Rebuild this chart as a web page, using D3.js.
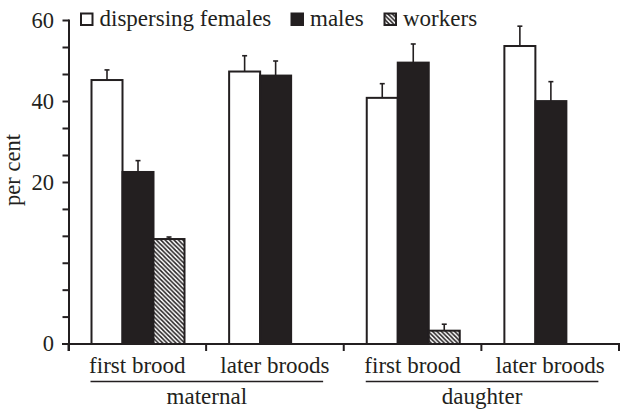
<!DOCTYPE html>
<html><head><meta charset="utf-8">
<script src="https://cdn.jsdelivr.net/npm/d3@7"></script>
<style>body{margin:0;background:#fff}svg{display:block}</style>
</head><body><svg id="c" width="621" height="412"></svg>
<script>
const categories = ["first brood","later broods","first brood","later broods"];
const groups = [{name:"maternal", from:0, to:1},{name:"daughter", from:2, to:3}];
const series = ["dispersing females","males","workers"];
const femalesVal = [45.3, 47.4, 40.9, 53.7];
const femalesErr = [2.5, 3.9, 3.5, 4.9];
const malesVal = [22.6, 46.4, 49.6, 40.1];
const malesErr = [2.8, 3.6, 4.6, 4.8];
const workersVal = [13.0, null, 1.65, null];
const workersErr = [0.25, null, 0.8, null];
const yTickLabels = [0, 20, 40, 60];

const ink = "#231f20";
const FONT = "'Liberation Serif'";
const svg = d3.select("#c");
const txt = (sel)=>sel.style("font-family",FONT).attr("fill",ink);
const defs = svg.append("defs");
const P = 4.4;
const pat = defs.append("pattern").attr("id","hatch").attr("patternUnits","userSpaceOnUse")
  .attr("width",P).attr("height",P);
pat.append("rect").attr("width",P).attr("height",P).attr("fill","#fff");
pat.append("path").attr("d",`M0,0L${P},${P}M-1,${P-1}L1,${P+1}M${P-1},-1L${P+1},1`).attr("stroke",ink).attr("stroke-width",1.5);

const y = d3.scaleLinear().domain([0,20,60]).range([344,182.5,20.5]);
const x0 = d3.scaleBand().domain(d3.range(categories.length)).range([68.5,619]);
const x1 = d3.scaleBand().domain(series).range([23,116]);

const vals = [femalesVal, malesVal, workersVal];
const errs = [femalesErr, malesErr, workersErr];
const fills = ["#fff", ink, "url(#hatch)"];

const data = [];
series.forEach((s,si)=>categories.forEach((c,ci)=>{
  if (vals[si][ci]!=null) data.push({s,si,ci,v:vals[si][ci],e:errs[si][ci]});
}));

svg.append("g").selectAll("rect").data(data).join("rect")
  .attr("x",d=>x0(d.ci)+x1(d.s)).attr("width",x1.bandwidth())
  .attr("y",d=>y(d.v)).attr("height",d=>y(0)-y(d.v))
  .attr("fill",d=>fills[d.si]).attr("stroke",ink).attr("stroke-width",2);

const eb = svg.append("g").attr("stroke",ink).attr("stroke-width",1.6);
data.forEach(d=>{
  const cx = x0(d.ci)+x1(d.s)+x1.bandwidth()/2;
  eb.append("line").attr("x1",cx).attr("x2",cx).attr("y1",y(d.v)).attr("y2",y(d.v+d.e));
  eb.append("line").attr("x1",cx-2.5).attr("x2",cx+2.5).attr("y1",y(d.v+d.e)).attr("y2",y(d.v+d.e));
});

const minor = d3.range(0,20,20/6).concat(d3.range(20,60.01,20/3));
const ya = svg.append("g").attr("stroke",ink).attr("stroke-width",2);
ya.append("line").attr("x1",69).attr("x2",69).attr("y1",y(60)-1).attr("y2",351);
minor.forEach(v=>ya.append("line").attr("x1",62.5).attr("x2",69).attr("y1",y(v)).attr("y2",y(v)));
txt(svg.append("g").selectAll("text").data(yTickLabels).join("text")
  .attr("x",54).attr("y",d=>y(d)).attr("dy","0.33em").attr("text-anchor","end")
  .attr("font-size",22.5).text(d=>d));
txt(svg.append("text").attr("transform","translate(20,170) rotate(-90)").attr("text-anchor","middle")
  .attr("font-size",22.5).text("per cent"));

const xa = svg.append("g").attr("stroke",ink).attr("stroke-width",2);
xa.append("line").attr("x1",62).attr("x2",620).attr("y1",y(0)).attr("y2",y(0));
x0.domain().concat([categories.length]).forEach(i=>{
  const xx = i<categories.length ? x0(i) : x0.range()[1];
  xa.append("line").attr("x1",xx).attr("x2",xx).attr("y1",y(0)).attr("y2",351);
});
txt(svg.append("g").selectAll("text").data(categories).join("text")
  .attr("x",(d,i)=>x0(i)+x0.bandwidth()/2).attr("y",373).attr("text-anchor","middle")
  .attr("font-size",23).text(d=>d));
groups.forEach(g=>{
  const a = x0(g.from)+x1(series[0]) - 1, b = x0(g.to)+x1(series[1])+x1.bandwidth()+32;
  svg.append("line").attr("x1",a).attr("x2",b).attr("y1",381.5).attr("y2",381.5).attr("stroke",ink).attr("stroke-width",1.6);
  txt(svg.append("text").attr("x",(a+b)/2).attr("y",404).attr("text-anchor","middle").attr("font-size",23).text(g.name));
});

const legX = [80, 290.5, 383.5];
const leg = svg.append("g");
series.forEach((s,i)=>{
  leg.append("rect").attr("x",legX[i]+1).attr("y",13.5).attr("width",11.5).attr("height",11.5)
    .attr("fill",fills[i]).attr("stroke",ink).attr("stroke-width",2);
  txt(leg.append("text").attr("x",legX[i]+19.5).attr("y",26).attr("font-size",23).text(s));
});
</script></body></html>
